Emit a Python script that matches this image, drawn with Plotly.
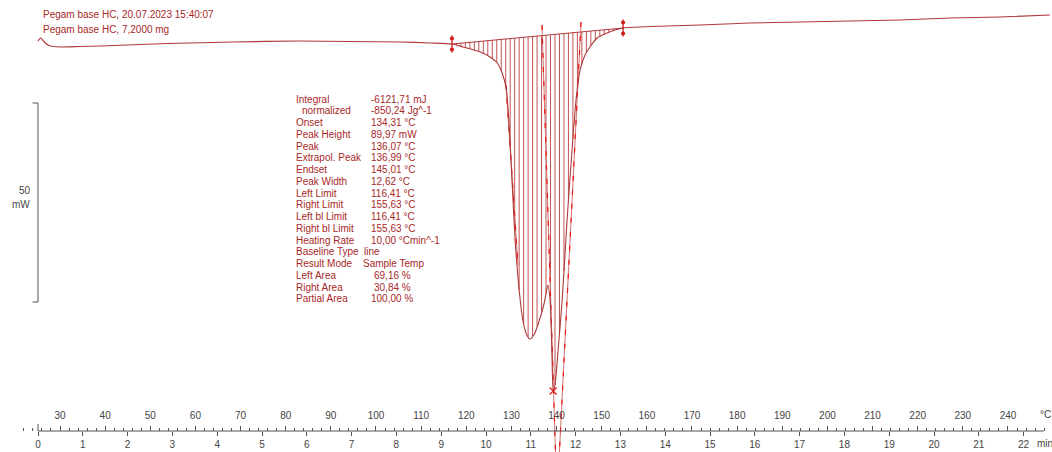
import numpy as np
import plotly.graph_objects as go

# ---------------- data ----------------
time_min = [0.00, 0.06, 0.16, 0.27, 0.49, 0.94, 1.38, 2.28, 2.88, 4.35, 5.85, 6.96,
            8.08, 8.75, 9.24, 9.49, 9.87, 10.09, 10.25, 10.36, 10.45, 10.51, 10.58,
            10.65, 10.74, 10.83, 10.92, 10.98, 11.07, 11.18, 11.30, 11.38, 11.43,
            11.47, 11.50, 11.54, 11.61, 11.70, 11.81, 11.92, 12.01, 12.10, 12.21,
            12.32, 12.48, 12.70, 13.06, 14.04, 14.78, 15.89, 17.01, 18.13, 19.24,
            20.36, 21.47, 22.59]
heat_flow_mw = [-0.30, 0.45, -0.80, -1.56, -1.81, -1.68, -1.56, -1.18, -0.93, -0.55,
                -0.30, -0.43, -0.55, -0.80, -1.06, -1.81, -3.07, -4.32, -5.83, -8.34,
                -12.11, -20.15, -35.23, -50.30, -62.86, -70.90, -74.42, -75.18, -74.17,
                -70.90, -66.13, -61.61, -65.38, -77.94, -88.24, -86.73, -77.94, -65.38,
                -45.28, -27.69, -15.13, -7.59, -3.82, -1.81, 0.45, 1.71, 2.96, 3.47,
                3.72, 4.22, 4.47, 4.72, 4.97, 5.48, 5.73, 6.23]

left_limit_min = 9.24
right_limit_min = 13.06
hatch_step_min = 0.1

# tangent lines (time in min, heat flow in mW)
onset_tangent_t = [10.446, 10.714]
onset_tangent_mw = [-11.36, -56.58]
peak_tangent_t = [11.25, 11.571]
peak_tangent_mw = [3.72, -110.6]
end_tangent_t = [12.121, 11.607]
end_tangent_mw = [4.47, -110.6]

sample_title = "Pegam base HC, 20.07.2023 15:40:07"
sample_mass = "Pegam base HC, 7,2000 mg"

result_labels = ["Integral", "  normalized", "Onset", "Peak Height", "Peak",
                 "Extrapol. Peak", "Endset", "Peak Width", "Left Limit", "Right Limit",
                 "Left bl Limit", "Right bl Limit", "Heating Rate", "Baseline Type",
                 "Result Mode", "Left Area", "Right Area", "Partial Area"]
result_values = ["-6121,71 mJ", "-850,24 Jg^-1", "134,31 °C", "89,97 mW", "136,07 °C",
                 "136,99 °C", "145,01 °C", "12,62 °C", "116,41 °C", "155,63 °C",
                 "116,41 °C", "155,63 °C", "10,00 °Cmin^-1", "line", "Sample Temp",
                 "69,16 %", "30,84 %", "100,00 %"]

minute_ticks = list(range(0, 23))
temp_ticks = list(range(30, 250, 10))
temp_minor_ticks = [v for v in range(22, 250, 2) if v % 10 != 0]
scale_bar_mw = 50

# ---------------- styling ----------------
W, H = 1052, 452
CURVE = "#b03a3a"
HATCH = "#c25454"
TEXT = "#a82828"
BRIGHT = "#ee1515"
AXIS = "#555555"
FONT = "Liberation Sans"

x_range = [-38 / 44.8, (W - 38) / 44.8]
t_range = [16.709, 249.75]
y_range = [10 - H / 3.98, 10]
axis_pos = (H - 431) / H


def px_x(p):
    return p / W


def px_y(p):
    return 1 - p / H


t_arr = np.array(time_min)
q_arr = np.array(heat_flow_mw)

fig = go.Figure()

# hatching between baseline and curve
bl_y0 = np.interp(left_limit_min, t_arr, q_arr)
bl_y1 = np.interp(right_limit_min, t_arr, q_arr)
hx, hy = [], []
k = 1
while left_limit_min + k * hatch_step_min < right_limit_min - 1e-6:
    tt = left_limit_min + k * hatch_step_min
    base = bl_y0 + (bl_y1 - bl_y0) * (tt - left_limit_min) / (right_limit_min - left_limit_min)
    cur = np.interp(tt, t_arr, q_arr)
    hx += [tt, tt, None]
    hy += [base, cur, None]
    k += 1
fig.add_trace(go.Scatter(x=hx, y=hy, mode="lines", line=dict(color=HATCH, width=1),
                         hoverinfo="skip"))

# baseline
fig.add_trace(go.Scatter(x=[left_limit_min, right_limit_min], y=[bl_y0, bl_y1],
                         mode="lines", line=dict(color=CURVE, width=1), hoverinfo="skip"))

# tangents
for tx, ty in [(onset_tangent_t, onset_tangent_mw), (peak_tangent_t, peak_tangent_mw),
               (end_tangent_t, end_tangent_mw)]:
    fig.add_trace(go.Scatter(x=tx, y=ty, mode="lines", line=dict(color="#d27070", width=1),
                             hoverinfo="skip"))
    fig.add_trace(go.Scatter(x=tx, y=ty, mode="lines",
                             line=dict(color=BRIGHT, width=1.2, dash="5px,9px"),
                             hoverinfo="skip"))

# main curve
fig.add_trace(go.Scatter(x=time_min, y=heat_flow_mw, mode="lines",
                         line=dict(color=CURVE, width=1.1, shape="spline", smoothing=0.6),
                         hoverinfo="skip"))

# limit markers
for lt, ly in [(left_limit_min, bl_y0), (right_limit_min, bl_y1)]:
    fig.add_trace(go.Scatter(x=[lt], y=[ly], mode="markers",
                             marker=dict(symbol="line-ns", size=12,
                                         line=dict(color="#c02020", width=1.3)),
                             hoverinfo="skip"))
    fig.add_trace(go.Scatter(x=[lt, lt], y=[ly + 1.4, ly - 1.4], mode="markers",
                             marker=dict(symbol="circle", size=4, color="#d01818"),
                             hoverinfo="skip"))

# peak marker
imin = int(np.argmin(q_arr))
fig.add_trace(go.Scatter(x=[time_min[imin]], y=[heat_flow_mw[imin]], mode="markers",
                         marker=dict(symbol="x-thin", size=7,
                                     line=dict(color="#e02020", width=1.2)),
                         hoverinfo="skip"))

# dummy trace for temperature axis
fig.add_trace(go.Scatter(x=[t_range[0]], y=[y_range[1] + 100], xaxis="x2", mode="markers",
                         marker=dict(size=1, color="rgba(0,0,0,0)"), hoverinfo="skip"))

shapes = []
# axis line
shapes.append(dict(type="line", xref="x", yref="paper", x0=0, x1=22.45,
                   y0=axis_pos, y1=axis_pos, line=dict(color=AXIS, width=1)))
shapes.append(dict(type="line", xref="x", yref="paper", x0=0, x1=0,
                   y0=axis_pos, y1=axis_pos + 7 / H, line=dict(color=AXIS, width=1)))
# scale bar (50 mW)
sb_top = 10 - 103 / 3.98
sb_bot = sb_top - scale_bar_mw
shapes.append(dict(type="line", xref="x", yref="y", x0=0, x1=0, y0=sb_top, y1=sb_bot,
                   line=dict(color=AXIS, width=1)))
for yy in (sb_top, sb_bot):
    shapes.append(dict(type="line", xref="x", yref="y", x0=-0.12, x1=0, y0=yy, y1=yy,
                       line=dict(color=AXIS, width=1)))

annotations = []
afont = dict(family=FONT, size=10, color=TEXT)
annotations.append(dict(x=px_x(41), y=px_y(15), xref="paper", yref="paper", text=sample_title,
                        showarrow=False, xanchor="left", yanchor="middle", font=afont))
annotations.append(dict(x=px_x(41), y=px_y(29), xref="paper", yref="paper", text=sample_mass,
                        showarrow=False, xanchor="left", yanchor="middle", font=afont))

value_x_px = [369, 369, 369, 369, 369, 369, 369, 369, 369, 369, 369, 369, 369, 362, 361,
              372, 372, 369]
for i, (lab, val) in enumerate(zip(result_labels, result_values)):
    yy = 99 + 11.76 * i
    lx = 294
    if lab.startswith("  "):
        lab = lab.strip()
        lx = 300
    annotations.append(dict(x=px_x(lx), y=px_y(yy), xref="paper", yref="paper", text=lab,
                            showarrow=False, xanchor="left", yanchor="middle", font=afont))
    annotations.append(dict(x=px_x(value_x_px[i]), y=px_y(yy), xref="paper", yref="paper",
                            text=val, showarrow=False, xanchor="left", yanchor="middle",
                            font=afont))

gfont = dict(family=FONT, size=10, color="#444444")
annotations.append(dict(x=px_x(25), y=px_y(191), xref="paper", yref="paper", text="50",
                        showarrow=False, xanchor="center", yanchor="middle", font=gfont))
annotations.append(dict(x=px_x(21), y=px_y(204), xref="paper", yref="paper", text="mW",
                        showarrow=False, xanchor="center", yanchor="middle", font=gfont))
annotations.append(dict(x=px_x(1045), y=px_y(414), xref="paper", yref="paper", text="°C",
                        showarrow=False, xanchor="center", yanchor="middle", font=gfont))
annotations.append(dict(x=px_x(1035), y=px_y(443), xref="paper", yref="paper", text="min",
                        showarrow=False, xanchor="left", yanchor="middle", font=gfont))

fig.update_layout(
    width=W, height=H,
    margin=dict(l=0, r=0, t=0, b=0),
    paper_bgcolor="white", plot_bgcolor="white",
    showlegend=False,
    xaxis=dict(range=x_range, domain=[0, 1], anchor="free", position=axis_pos, side="bottom",
               showline=False, showgrid=False, zeroline=False,
               tickmode="array", tickvals=minute_ticks,
               ticks="outside", ticklen=4, tickcolor=AXIS, tickwidth=1,
               tickfont=gfont, fixedrange=True),
    xaxis2=dict(range=t_range, overlaying="x", anchor="free", position=axis_pos, side="top",
                showline=False, showgrid=False, zeroline=False,
                tickmode="array", tickvals=temp_ticks,
                ticks="outside", ticklen=5, tickcolor=AXIS, tickwidth=1,
                ticklabelstandoff=3,
                minor=dict(tickmode="array", tickvals=temp_minor_ticks, ticks="outside",
                           ticklen=3, tickcolor=AXIS, tickwidth=1),
                tickfont=gfont, fixedrange=True),
    yaxis=dict(range=y_range, domain=[0, 1], visible=False, fixedrange=True),
    shapes=shapes,
    annotations=annotations,
)

fig.write_html("out.html")
